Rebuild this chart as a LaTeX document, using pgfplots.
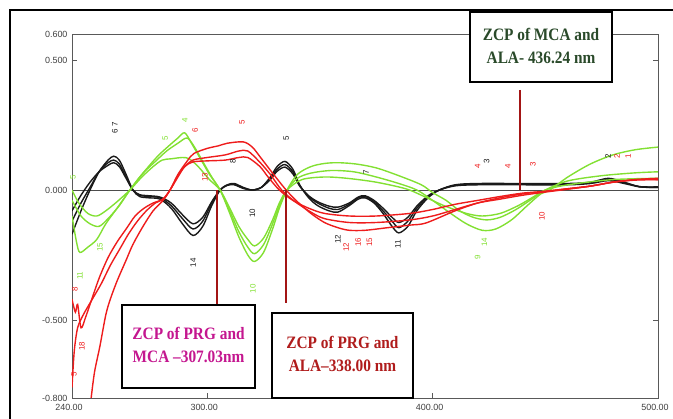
\documentclass[border=0pt]{standalone}
\usepackage{fontspec}
\setmainfont{Liberation Sans}
\newfontfamily\tnr{Liberation Serif}
\usepackage{pgfplots}
\pgfplotsset{compat=1.18}

\definecolor{cblack}{HTML}{1A1A1A}
\definecolor{cgreen}{HTML}{82E032}
\definecolor{cred}{HTML}{EE1C1C}
\definecolor{zcp}{HTML}{A31515}
\definecolor{tgreen}{HTML}{2A4A2A}
\definecolor{tmag}{HTML}{C4168F}
\definecolor{tred}{HTML}{B01C1C}
\tikzset{lbl/.style={font=\fontsize{8}{8}\selectfont, rotate=90, inner sep=0.5pt}}

\begin{document}
\begin{tikzpicture}
\path[use as bounding box] (0,0) rectangle (673bp,419bp);
\draw[line width=2pt] (10bp,0) -- (10bp,409bp) -- (673bp,409bp);
\begin{axis}[
    at={(72bp,21bp)}, anchor=south west,
    scale only axis, width=586bp, height=364bp,
    xmin=240, xmax=500, ymin=-0.8, ymax=0.6,
    xtick={240,300,400,500},
    xticklabels={240.00,300.00,400.00,500.00},
    ytick={-0.8,-0.5,0,0.5,0.6},
    yticklabels={-0.800,-0.500,0.000,0.500,0.600},
    xtick pos=bottom,
    tick align=inside, major tick length=5bp,
    tick style={black!65, line width=0.6pt},
    axis line style={black!65, line width=0.8pt},
    ticklabel style={font=\fontsize{9}{9}\selectfont, text=black!75},
    xticklabel style={yshift=-3bp, xshift=-3bp},
    yticklabel style={xshift=-1bp},
    clip mode=individual,
    every axis plot/.append style={line width=1.4pt, smooth, tension=0.5},
]
\draw[black!70, line width=0.8pt] (axis cs:240,0) -- (axis cs:500,0);

% black curves
\addplot[cblack] coordinates {(240,-0.17) (244,-0.08) (248,0.0) (252,0.07) (256,0.115) (258.5,0.13) (261,0.115) (264,0.06) (267,0.0) (270,-0.025) (274,-0.03) (279,-0.035) (284,-0.07) (289,-0.13) (293.7,-0.175) (298,-0.14) (302,-0.06) (305.7,0.0) (309,0.02) (312,0.025) (316,0.01) (320,0.0) (324,0.01) (328,0.05) (331,0.09) (334.5,0.11) (338,0.08) (341,0.02) (345,-0.03) (349,-0.06) (354,-0.08) (358,-0.085) (363,-0.06) (367,-0.035) (370,-0.03) (374,-0.05) (378,-0.09) (382,-0.14) (385,-0.165) (389,-0.14) (393,-0.08) (398,-0.03) (403,0.0) (410,0.02) (420,0.025) (440,0.025) (460,0.025) (470,0.03) (478,0.045) (485,0.03) (492,0.012) (500,0.01)};
\addplot[cblack] coordinates {(240,-0.12) (244,-0.05) (248,0.01) (252,0.07) (256,0.105) (258.5,0.115) (261,0.1) (264,0.05) (267,0.0) (270,-0.02) (274,-0.025) (279,-0.03) (284,-0.06) (289,-0.11) (293.7,-0.15) (298,-0.12) (302,-0.05) (305.7,0.0) (309,0.02) (312,0.022) (316,0.008) (320,0.0) (324,0.01) (328,0.045) (331,0.08) (334.5,0.098) (338,0.07) (341,0.018) (345,-0.025) (349,-0.05) (354,-0.07) (358,-0.075) (363,-0.055) (367,-0.03) (370,-0.025) (374,-0.045) (378,-0.08) (382,-0.12) (385,-0.145) (389,-0.12) (393,-0.07) (398,-0.025) (403,0.0) (410,0.018) (420,0.022) (440,0.022) (460,0.022) (470,0.028) (478,0.04) (485,0.028) (492,0.013) (500,0.012)};
\addplot[cblack] coordinates {(240,-0.08) (244,-0.02) (248,0.03) (252,0.07) (256,0.095) (258.5,0.105) (261,0.09) (264,0.045) (267,0.0) (270,-0.018) (274,-0.022) (279,-0.027) (284,-0.05) (289,-0.095) (293.7,-0.13) (298,-0.105) (302,-0.045) (305.7,0.0) (309,0.018) (312,0.02) (316,0.006) (320,0.0) (324,0.01) (328,0.04) (331,0.072) (334.5,0.088) (338,0.062) (341,0.015) (345,-0.022) (349,-0.045) (354,-0.062) (358,-0.066) (363,-0.05) (367,-0.027) (370,-0.022) (374,-0.04) (378,-0.07) (382,-0.105) (385,-0.125) (389,-0.105) (393,-0.062) (398,-0.022) (403,0.0) (410,0.016) (420,0.02) (440,0.02) (460,0.02) (470,0.025) (478,0.036) (485,0.025) (492,0.012) (500,0.01)};

% green curves
\addplot[cgreen] coordinates {(240,-0.1) (242,-0.2) (243.5,-0.24) (247,-0.22) (251,-0.19) (255,-0.13) (260,-0.07) (265.7,0.0) (272,0.07) (278,0.13) (283,0.17) (287,0.2) (290,0.22) (293,0.18) (297,0.12) (301,0.06) (305.7,0.0) (310,-0.09) (314,-0.18) (318,-0.25) (321,-0.275) (325,-0.24) (329,-0.15) (332,-0.07) (335.4,0.0) (340,0.06) (346,0.09) (352,0.102) (358,0.105) (366,0.1) (375,0.085) (385,0.055) (395,0.02) (400,-0.01) (406,-0.04) (412,-0.08) (418,-0.105) (424,-0.115) (430,-0.105) (437,-0.075) (444,-0.035) (450,0.0) (460,0.035) (475,0.055) (490,0.066) (500,0.07)};
\addplot[cgreen] coordinates {(240,-0.04) (244,-0.1) (248,-0.13) (252,-0.14) (256,-0.11) (261,-0.06) (265.7,0.0) (271,0.06) (277,0.11) (282,0.15) (287,0.18) (291,0.2) (294,0.17) (298,0.11) (302,0.05) (305.7,0.0) (310,-0.08) (314,-0.16) (318,-0.22) (321,-0.245) (325,-0.21) (329,-0.13) (332,-0.06) (335.4,0.0) (340,0.045) (346,0.065) (355,0.075) (365,0.07) (375,0.05) (385,0.025) (393,0.0) (400,-0.04) (408,-0.09) (415,-0.13) (422,-0.155) (428,-0.15) (435,-0.115) (442,-0.06) (448,-0.015) (452,0.0) (460,0.05) (470,0.1) (480,0.135) (490,0.155) (500,0.165)};
\addplot[cgreen] coordinates {(240,0.0) (243,-0.05) (247,-0.09) (251,-0.1) (255,-0.08) (260,-0.045) (265.7,0.0) (271,0.05) (276,0.09) (280,0.115) (284,0.12) (289,0.125) (292,0.12) (296,0.09) (301,0.04) (305.7,0.0) (310,-0.07) (314,-0.14) (318,-0.19) (321,-0.215) (325,-0.185) (329,-0.115) (332,-0.05) (335.4,0.0) (342,0.04) (352,0.05) (362,0.045) (375,0.03) (388,0.005) (395,-0.02) (405,-0.06) (415,-0.09) (422,-0.1) (430,-0.09) (438,-0.06) (445,-0.025) (450,0.0) (460,0.02) (480,0.04) (500,0.045)};

% red curves
\addplot[cred] coordinates {(248.5,-0.8) (250,-0.7) (252.4,-0.6) (255,-0.48) (257,-0.42) (260,-0.35) (264,-0.27) (267,-0.21) (271.5,-0.14) (276,-0.08) (280.4,-0.04) (283.5,0.0) (287,0.06) (291,0.11) (294,0.14) (300,0.16) (305,0.17) (309,0.18) (316,0.185) (320,0.165) (323.5,0.127) (329,0.065) (335,0.0) (340,-0.045) (346,-0.09) (352,-0.125) (358,-0.145) (363,-0.155) (370,-0.155) (380,-0.145) (390,-0.135) (397,-0.127) (410,-0.08) (420,-0.05) (430,-0.03) (440,-0.015) (450,-0.005) (460,0.005) (470,0.015) (480,0.03) (490,0.04) (500,0.045)};
\addplot[cred] coordinates {(240,-0.42) (241.5,-0.47) (242.5,-0.44) (244,-0.53) (246,-0.49) (248,-0.44) (252,-0.34) (256,-0.26) (260,-0.2) (264,-0.15) (268,-0.1) (272,-0.07) (276,-0.05) (280.4,-0.035) (283.5,0.0) (287,0.05) (290,0.09) (293.7,0.108) (300,0.112) (308,0.115) (314,0.125) (318,0.125) (323.4,0.09) (327,0.05) (332,0.0) (338,-0.04) (345,-0.07) (352,-0.09) (363,-0.1) (375,-0.1) (390,-0.09) (400,-0.075) (410,-0.055) (420,-0.04) (430,-0.025) (440,-0.012) (450,-0.005) (460,0.005) (470,0.015) (480,0.03) (490,0.04) (500,0.04)};
\addplot[cred] coordinates {(240,-0.76) (241,-0.62) (242.5,-0.53) (245,-0.48) (249,-0.42) (253,-0.36) (257,-0.29) (261,-0.23) (265,-0.17) (269,-0.12) (273,-0.08) (277,-0.05) (280.4,-0.035) (283.5,0.0) (287,0.055) (290,0.09) (293.7,0.115) (300,0.125) (308,0.135) (314,0.15) (318,0.15) (323,0.11) (328,0.06) (333,0.0) (339,-0.045) (346,-0.085) (352,-0.11) (363,-0.125) (375,-0.125) (390,-0.115) (400,-0.1) (410,-0.075) (420,-0.05) (430,-0.035) (440,-0.02) (450,-0.008) (460,0.003) (470,0.015) (480,0.03) (490,0.038) (500,0.04)};

% peak labels
\node[lbl, text=cblack] at (axis cs:259,0.24) {6 7};
\node[lbl, text=cblack] at (axis cs:293.7,-0.28) {14};
\node[lbl, text=cblack] at (axis cs:311.4,0.11) {8};
\node[lbl, text=cblack] at (axis cs:320,-0.09) {10};
\node[lbl, text=cblack] at (axis cs:335,0.2) {5};
\node[lbl, text=cblack] at (axis cs:358,-0.19) {12};
\node[lbl, text=cblack] at (axis cs:370.5,0.07) {7};
\node[lbl, text=cblack] at (axis cs:384.6,-0.21) {11};
\node[lbl, text=cblack] at (axis cs:424,0.11) {3};
\node[lbl, text=cblack] at (axis cs:477.8,0.13) {2};
\node[lbl, text=cred] at (axis cs:294.6,0.23) {6};
\node[lbl, text=cred] at (axis cs:315.4,0.26) {5};
\node[lbl, text=cred] at (axis cs:299,0.05) {13};
\node[lbl, text=cred] at (axis cs:361.6,-0.22) {12};
\node[lbl, text=cred] at (axis cs:366.9,-0.2) {16};
\node[lbl, text=cred] at (axis cs:372,-0.2) {15};
\node[lbl, text=cred] at (axis cs:420,0.09) {4};
\node[lbl, text=cred] at (axis cs:433.4,0.09) {4};
\node[lbl, text=cred] at (axis cs:444.5,0.1) {3};
\node[lbl, text=cred] at (axis cs:448.5,-0.1) {10};
\node[lbl, text=cred] at (axis cs:241.3,-0.38) {8};
\node[lbl, text=cred] at (axis cs:244.4,-0.6) {18};
\node[lbl, text=cred] at (axis cs:240.9,-0.71) {5};
\node[lbl, text=cred] at (axis cs:481.8,0.13) {2};
\node[lbl, text=cred] at (axis cs:486.7,0.13) {1};
\node[lbl, text=cgreen] at (axis cs:290.1,0.27) {4};
\node[lbl, text=cgreen] at (axis cs:281.3,0.2) {5};
\node[lbl, text=cgreen] at (axis cs:240.4,0.05) {5};
\node[lbl, text=cgreen] at (axis cs:252.4,-0.22) {15};
\node[lbl, text=cgreen] at (axis cs:243.5,-0.33) {11};
\node[lbl, text=cgreen] at (axis cs:320.3,-0.38) {10};
\node[lbl, text=cgreen] at (axis cs:423,-0.2) {14};
\node[lbl, text=cgreen] at (axis cs:420,-0.26) {9};

% zero crossing markers
\draw[zcp, line width=2.2pt] (axis cs:438.8,0.385) -- (axis cs:438.8,0);
\draw[zcp, line width=2.2pt] (axis cs:304.3,0) -- (axis cs:304.3,-0.442);
\draw[zcp, line width=2.2pt] (axis cs:335,0) -- (axis cs:335,-0.435);

\node[draw=black, line width=1.6pt, fill=white, minimum width=142bp, minimum height=70bp, inner sep=0pt, text=tgreen, font=\tnr\bfseries\fontsize{17.5}{23}\selectfont]
  at (axis cs:448.1,0.55) {\scalebox{0.88}[1]{\begin{tabular}{@{}c@{}}ZCP of MCA and\\ALA- 436.24 nm\end{tabular}}};
\node[draw=black, line width=1.6pt, fill=white, minimum width=133bp, minimum height=83bp, inner sep=0pt, text=tmag, font=\tnr\bfseries\fontsize{17.5}{23}\selectfont]
  at (axis cs:291.7,-0.602) {\scalebox{0.88}[1]{\begin{tabular}{@{}c@{}}ZCP of PRG and\\MCA –307.03nm\end{tabular}}};
\node[draw=black, line width=1.6pt, fill=white, minimum width=141bp, minimum height=85bp, inner sep=0pt, text=tred, font=\tnr\bfseries\fontsize{17.5}{23}\selectfont]
  at (axis cs:360,-0.637) {\scalebox{0.88}[1]{\begin{tabular}{@{}c@{}}ZCP of PRG and\\ALA–338.00 nm\end{tabular}}};
\end{axis}
\end{tikzpicture}
\end{document}
